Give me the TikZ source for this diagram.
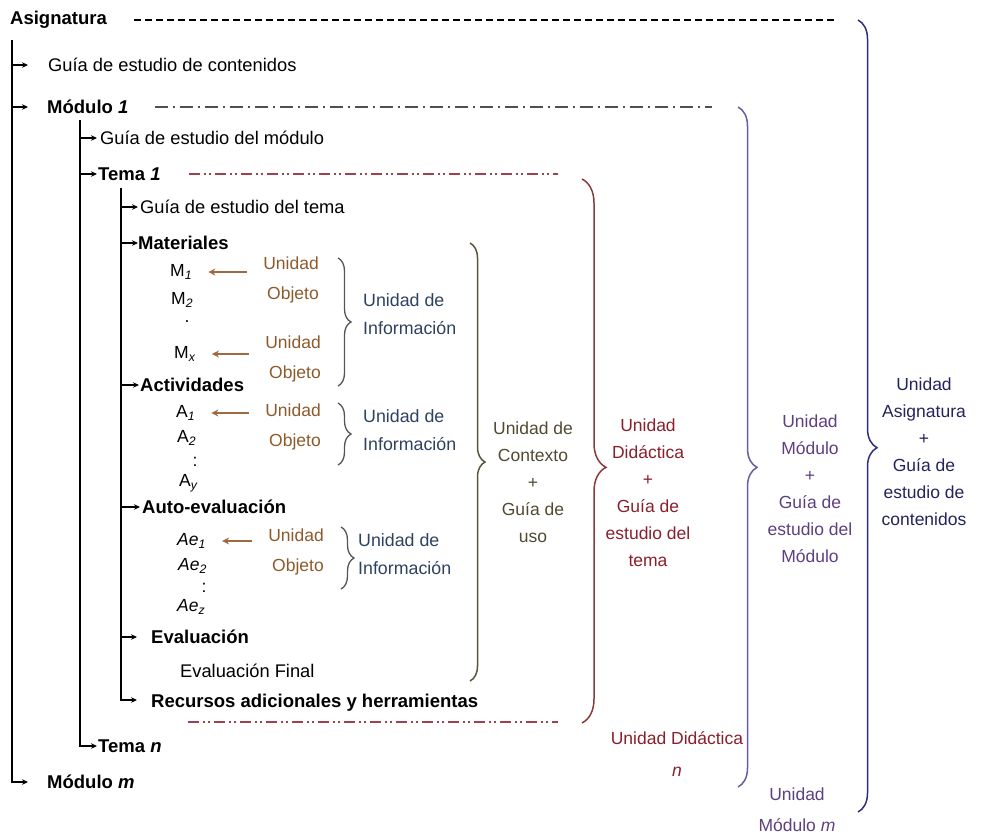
\documentclass[tikz,border=0pt]{standalone}
\usepackage{fontspec}
\setmainfont{Liberation Sans}
\usetikzlibrary{arrows.meta,decorations.pathreplacing,calc}
\definecolor{objbrown}{HTML}{8E5A2C}
\definecolor{objarrow}{HTML}{A06A40}
\definecolor{infoblue}{HTML}{2E4260}
\definecolor{ctxolive}{HTML}{4F4A30}
\definecolor{didred}{HTML}{8A1F2B}
\definecolor{modpurple}{HTML}{5E3F82}
\definecolor{asignavy}{HTML}{23235E}
\definecolor{ctxbrace}{HTML}{5A553A}
\definecolor{didbrace}{HTML}{8A3A3A}
\definecolor{modbrace}{HTML}{6A5AA8}
\definecolor{asigbrace}{HTML}{2E2E80}
\definecolor{modline}{HTML}{505050}
\definecolor{temaline}{HTML}{A0404F}
\definecolor{sbracecol}{HTML}{555555}
\tikzset{
  txt/.style={inner sep=0pt, anchor=west, font=\fontsize{18.3}{20}\selectfont},
  hd/.style={inner sep=0pt, anchor=west, font=\fontsize{18.5}{20}\selectfont\bfseries},
  item/.style={inner sep=0pt, font=\fontsize{17.5}{20}\selectfont},
  uo/.style={inner sep=0pt, align=right, anchor=east, text=objbrown,
    font=\fontsize{17.5}{30}\selectfont},
  ui/.style={inner sep=0pt, align=left, anchor=west, text=infoblue,
    font=\fontsize{17.8}{28}\selectfont},
  unit/.style={inner sep=0pt, align=center, font=\fontsize{17.5}{27}\selectfont},
  trunk/.style={line width=2.2pt, -{Stealth[length=6pt,width=5.5pt]}},
  twig/.style={line width=1.8pt, -{Stealth[length=6pt,width=5.5pt]}},
  oarrow/.style={line width=2pt, objarrow, -{Stealth[length=7pt,width=7pt]},
    shorten <=16pt, shorten >=16pt},
  bigbrace/.style={decorate, line width=1.5pt},
  sbrace/.style={decorate, line width=1.3pt, sbracecol,
    decoration={brace, amplitude=13pt, aspect=0.5}},
}
\begin{document}
\begin{tikzpicture}[x=1pt,y=-1pt]
\useasboundingbox (0,0) rectangle (984,836);

% ---- outline entries
\node[hd]  (asig)  at (10,20)  {Asignatura};
\node[txt] (gcont) at (48,65)  {Guía de estudio de contenidos};
\node[hd]  (mod1)  at (47,107) {Módulo \textit{1}};
\node[txt] (gmod)  at (100,138) {Guía de estudio del módulo};
\node[hd]  (tema1) at (98,174) {Tema \textit{1}};
\node[txt] (gtema) at (140,207) {Guía de estudio del tema};
\node[hd]  (mat)   at (138,243) {Materiales};
\node[hd]  (act)   at (140,385) {Actividades};
\node[hd]  (auto)  at (142,507) {Auto-evaluación};
\node[hd]  (eval)  at (151,637) {Evaluación};
\node[txt] (efin)  at (180,671) {Evaluación Final};
\node[hd]  (rec)   at (151,703) {Recursos adicionales y herramientas};
\node[hd]  (teman) at (98,746) {Tema \textit{n}};
\node[hd]  (modm)  at (47,782) {Módulo \textit{m}};

% ---- materials, activities, self-assessment items
\node[item,anchor=west] (m1) at (170,272) {M\textsubscript{\textit{1}}};
\node[item,anchor=west] (m2) at (171,300) {M\textsubscript{\textit{2}}};
\node[item] (mdot) at (187,322) {.};
\node[item,anchor=west] (mx) at (174,354) {M\textsubscript{\textit{x}}};
\node[item,anchor=west] (a1) at (176,413) {A\textsubscript{\textit{1}}};
\node[item,anchor=west] (a2) at (177,438) {A\textsubscript{\textit{2}}};
\node[item] (adot) at (195,462) {:};
\node[item,anchor=west] (ay) at (179,483) {A\textsubscript{\textit{y}}};
\node[item,anchor=west] (ae1) at (177,541) {\textit{Ae}\textsubscript{\textit{1}}};
\node[item,anchor=west] (ae2) at (178,566) {\textit{Ae}\textsubscript{\textit{2}}};
\node[item] (aedot) at (204,588) {:};
\node[item,anchor=west] (aez) at (177,607) {\textit{Ae}\textsubscript{\textit{z}}};

% ---- object units
\node[uo] (uo1) at (319,280) {Unidad\\Objeto};
\node[uo] (uo2) at (321,359) {Unidad\\Objeto};
\node[uo] (uo3) at (321,427) {Unidad\\Objeto};
\node[uo] (uo4) at (324,552) {Unidad\\Objeto};
\draw[oarrow] (m1.east -| uo1.west) -- (m1.east);
\draw[oarrow] (mx.east -| uo2.west) -- (mx.east);
\draw[oarrow] (a1.east -| uo3.west) -- (a1.east);
\draw[oarrow] (ae1.east -| uo4.west) -- (ae1.east);

% ---- information units
\draw[sbrace] (338,258) -- (338,386);
\draw[sbrace] (338,403) -- (338,465);
\draw[sbrace] (341,527) -- (341,589);
\node[ui] (ui1) at (363,314) {Unidad de\\Información};
\node[ui] (ui2) at (363,430) {Unidad de\\Información};
\node[ui] (ui3) at (358,554) {Unidad de\\Información};

% ---- outline tree
\coordinate (t1) at (12,40);
\coordinate (t2) at (80,120);
\coordinate (t3) at (121,188);
\draw[trunk] (t1) |- ($(modm.west)+(-19,0)$);
\draw[twig] (t1 |- gcont.west) -- ++(16,0);
\draw[twig] (t1 |- mod1.west) -- ++(16,0);
\draw[trunk] (t2) |- ($(teman.west)+(-1,0)$);
\draw[twig] (t2 |- gmod.west) -- ++(17,0);
\draw[twig] (t2 |- tema1.west) -- ++(17,0);
\draw[trunk] (t3) |- ($(rec.west)+(-14,-3)$);
\draw[twig] (t3 |- gtema.west) -- ++(17,0);
\draw[twig] (t3 |- mat.west) -- ++(17,0);
\draw[twig] (t3 |- act.west) -- ++(18,0);
\draw[twig] (t3 |- auto.west) -- ++(19,0);
\draw[twig] (t3 |- eval.west) -- ++(16,0);

% ---- level guide lines
\coordinate (asigend) at (838,20);
\coordinate (mod1end) at (712,107);
\coordinate (tema1end) at (558,174);
\coordinate (temaend) at (558,722);
\coordinate (temastart) at (188,722);
\draw[line width=1.4pt, dash pattern=on 7pt off 4pt] ($(asig.east)+(27,0)$) -- (asigend);
\draw[line width=1.4pt, modline, dash pattern=on 13pt off 5pt on 2pt off 5pt]
  ($(mod1.east)+(26,0)$) -- (mod1end);
\draw[line width=1.4pt, temaline, dash pattern=on 11pt off 4pt on 2pt off 3pt on 2pt off 4pt]
  ($(tema1.east)+(28,0)$) -- (tema1end);
\draw[line width=1.4pt, temaline, dash pattern=on 11pt off 4pt on 2pt off 3pt on 2pt off 4pt]
  (temastart) -- (temaend);

% ---- grouping braces
\draw[bigbrace, ctxbrace, decoration={brace, amplitude=15pt, aspect=0.5}] (470,243) -- (470,681);
\draw[bigbrace, didbrace, decoration={brace, amplitude=24pt, aspect=0.53}] (582,179) -- (582,723);
\draw[bigbrace, modbrace, decoration={brace, amplitude=19pt, aspect=0.53}] (738,107) -- (738,787);
\draw[bigbrace, asigbrace, decoration={brace, amplitude=19pt, aspect=0.54}] (858,20) -- (858,812);

% ---- unit labels
\node[unit, text=ctxolive] (ctx) at (533,482) {Unidad de\\Contexto\\+\\Guía de\\uso};
\node[unit, text=didred] (did) at (648,493) {Unidad\\Didáctica\\+\\Guía de\\estudio del\\tema};
\node[unit, text=modpurple] (umod) at (810,489) {Unidad\\Módulo\\+\\Guía de\\estudio del\\Módulo};
\node[unit, text=asignavy] (uasig) at (924,452) {Unidad\\Asignatura\\+\\Guía de\\estudio de\\contenidos};
\node[unit, text=didred, font=\fontsize{17.5}{32}\selectfont] (didn) at (677,754) {Unidad Didáctica\\\textit{n}};
\node[unit, text=modpurple, font=\fontsize{17.5}{31}\selectfont] (umodm) at (797,810) {Unidad\\Módulo \textit{m}};
\end{tikzpicture}
\end{document}
